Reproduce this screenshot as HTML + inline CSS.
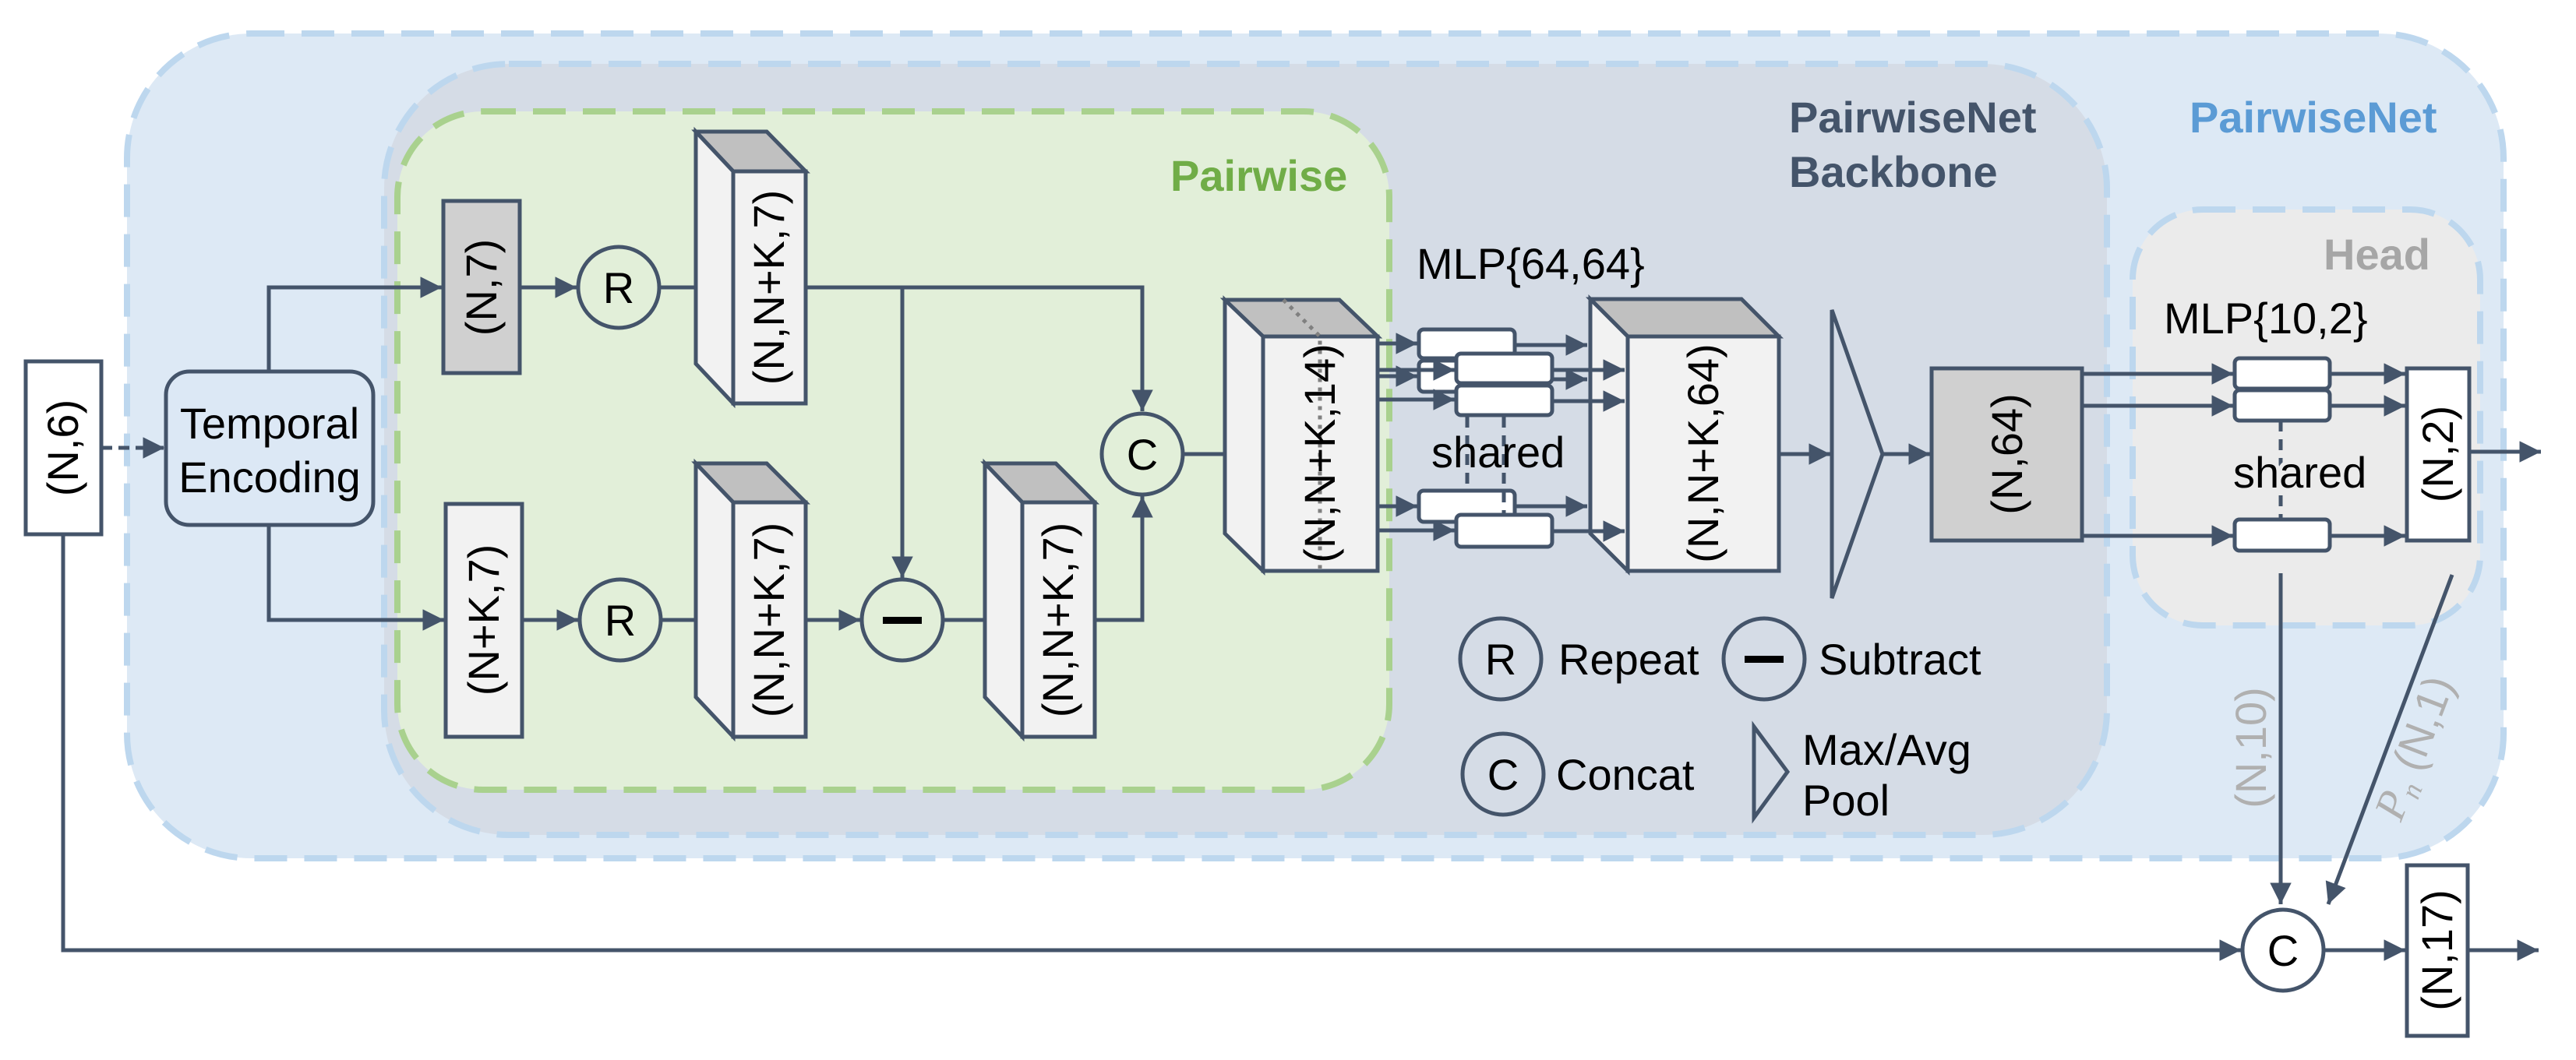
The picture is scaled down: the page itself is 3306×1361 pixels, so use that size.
<!DOCTYPE html>
<html><head><meta charset="utf-8"><style>
html,body{margin:0;padding:0;background:#fff}
svg{display:block}
text{font-family:"Liberation Sans",Arial,sans-serif;font-size:56px;fill:#000}
</style></head><body>
<svg width="3306" height="1361" viewBox="0 0 3306 1361" xmlns="http://www.w3.org/2000/svg">
<defs>
<marker id="a" viewBox="0 0 10 10" refX="10" refY="5" markerWidth="6" markerHeight="5.5" orient="auto" markerUnits="strokeWidth"><path d="M0,0 L10,5 L0,10 z" fill="#44546a"/></marker>
</defs>
<!-- containers -->
<rect x="163" y="43" width="3050" height="1059" rx="160" fill="#dde9f5" stroke="#bdd7ee" stroke-width="8" stroke-dasharray="42 22"/>
<rect x="493" y="82" width="2211" height="990" rx="160" fill="#d5dce6" stroke="#bdd7ee" stroke-width="8" stroke-dasharray="42 22"/>
<rect x="510" y="143" width="1273" height="871" rx="110" fill="#e2efd9" stroke="#a9d18e" stroke-width="8" stroke-dasharray="42 22"/>
<rect x="2737" y="269" width="446" height="534" rx="90" fill="#ebebeb" stroke="#bdd7ee" stroke-width="8" stroke-dasharray="42 22"/>
<text x="2810" y="170" font-weight="bold" style="fill:#5b9bd5">PairwiseNet</text>
<text x="2296" y="170" font-weight="bold" style="fill:#44546a">PairwiseNet</text>
<text x="2296" y="240" font-weight="bold" style="fill:#44546a">Backbone</text>
<text x="1502" y="245" font-weight="bold" style="fill:#70ad47">Pairwise</text>
<text x="2982" y="346" font-weight="bold" style="fill:#a6a6a6">Head</text>

<g stroke="#44546a" stroke-width="5" fill="none">
<rect x="33" y="464" width="97" height="222" fill="#fff"/>
<line x1="130" y1="575" x2="211" y2="575" stroke-dasharray="14 8" marker-end="url(#a)"/>
<rect x="213" y="477" width="266" height="197" rx="30" fill="#dce8f5"/>
<path d="M345,477 V369 H567" marker-end="url(#a)"/>
<path d="M345,674 V796 H570" marker-end="url(#a)"/>
<path d="M81,686 V1220 H2876" marker-end="url(#a)"/>
<rect x="569" y="258" width="98" height="221" fill="#d0d0d0"/>
<rect x="572" y="647" width="98" height="299" fill="#f2f2f2"/>
<line x1="667" y1="369" x2="740" y2="369" marker-end="url(#a)"/>
<line x1="670" y1="796" x2="742" y2="796" marker-end="url(#a)"/>
<circle cx="794" cy="369" r="52" fill="#e2efd9"/>
<circle cx="796" cy="796" r="52" fill="#e2efd9"/>
<line x1="846" y1="369" x2="939" y2="369" marker-end="url(#a)"/>
<line x1="848" y1="796" x2="939" y2="796" marker-end="url(#a)"/>
<polygon points="893,169 984,169 1034,220 941,220" fill="#c0c0c0"/>
<polygon points="893,169 941,220 941,518 893,467" fill="#f2f2f2"/>
<rect x="941" y="220" width="93" height="298" fill="#f2f2f2"/>
<polygon points="893,595 984,595 1034,645 941,645" fill="#c0c0c0"/>
<polygon points="893,595 941,645 941,946 893,895" fill="#f2f2f2"/>
<rect x="941" y="645" width="93" height="301" fill="#f2f2f2"/>
<path d="M1034,369 H1466 V528" marker-end="url(#a)"/>
<line x1="1158" y1="369" x2="1158" y2="742" marker-end="url(#a)"/>
<line x1="1034" y1="796" x2="1104" y2="796" marker-end="url(#a)"/>
<circle cx="1158" cy="796" r="52" fill="#e2efd9"/>
<line x1="1210" y1="796" x2="1310" y2="796" marker-end="url(#a)"/>
<polygon points="1264,595 1355,595 1405,645 1312,645" fill="#c0c0c0"/>
<polygon points="1264,595 1312,645 1312,946 1264,895" fill="#f2f2f2"/>
<rect x="1312" y="645" width="93" height="301" fill="#f2f2f2"/>
<path d="M1405,796 H1466 V637" marker-end="url(#a)"/>
<circle cx="1466" cy="583" r="52" fill="#e2efd9"/>
<line x1="1518" y1="583" x2="1572" y2="583"/>
<polygon points="1572,385 1719,385 1768,432 1621,432" fill="#c0c0c0"/>
<polygon points="1572,385 1621,432 1621,733 1572,685" fill="#f2f2f2"/>
<rect x="1621" y="432" width="147" height="301" fill="#f2f2f2"/>
</g>
<path d="M1647,385 L1694,432 V730" stroke="#808080" stroke-width="5" stroke-dasharray="5 7" fill="none"/>
<rect x="1133" y="792" width="50" height="9" fill="#000"/>

<g stroke="#44546a" stroke-width="5" fill="none">
<polygon points="2041,384 2235,384 2283,432 2089,432" fill="#c0c0c0"/>
<polygon points="2041,384 2089,432 2089,733 2041,685" fill="#f2f2f2"/>
<rect x="2089" y="432" width="194" height="301" fill="#f2f2f2"/>
<line x1="1768" y1="441" x2="1819" y2="441" marker-end="url(#a)"/>
<line x1="1768" y1="483" x2="1819" y2="483" marker-end="url(#a)"/>
<line x1="1768" y1="650" x2="1819" y2="650" marker-end="url(#a)"/>
<rect x="1821" y="423" width="123" height="37" rx="6" fill="#fff"/>
<rect x="1821" y="463" width="123" height="40" rx="6" fill="#fff"/>
<rect x="1821" y="630" width="123" height="40" rx="6" fill="#fff"/>
<line x1="1944" y1="443" x2="2037" y2="443" marker-end="url(#a)"/>
<line x1="1944" y1="487" x2="2037" y2="487" marker-end="url(#a)"/>
<line x1="1944" y1="650" x2="2037" y2="650" marker-end="url(#a)"/>
<line x1="1768" y1="475" x2="1867" y2="475" marker-end="url(#a)"/>
<line x1="1768" y1="513" x2="1867" y2="513" marker-end="url(#a)"/>
<line x1="1768" y1="681" x2="1867" y2="681" marker-end="url(#a)"/>
<rect x="1869" y="454" width="123" height="38" rx="6" fill="#fff"/>
<rect x="1869" y="495" width="123" height="38" rx="6" fill="#fff"/>
<rect x="1869" y="661" width="123" height="41" rx="6" fill="#fff"/>
<line x1="1992" y1="475" x2="2085" y2="475" marker-end="url(#a)"/>
<line x1="1992" y1="515" x2="2085" y2="515" marker-end="url(#a)"/>
<line x1="1992" y1="682" x2="2085" y2="682" marker-end="url(#a)"/>
<line x1="1883" y1="535" x2="1883" y2="630" stroke-dasharray="14 10"/>
<line x1="1930" y1="535" x2="1930" y2="661" stroke-dasharray="14 10"/>
<line x1="2283" y1="583" x2="2349" y2="583" marker-end="url(#a)"/>
<polygon points="2351,398 2416,583 2351,768"/>
<line x1="2416" y1="583" x2="2477" y2="583" marker-end="url(#a)"/>
<rect x="2479" y="473" width="193" height="221" fill="#d0d0d0"/>
<line x1="2672" y1="480" x2="2866" y2="480" marker-end="url(#a)"/>
<line x1="2672" y1="521" x2="2866" y2="521" marker-end="url(#a)"/>
<line x1="2672" y1="688" x2="2866" y2="688" marker-end="url(#a)"/>
<rect x="2868" y="460" width="122" height="39" rx="6" fill="#fff"/>
<rect x="2868" y="501" width="122" height="39" rx="6" fill="#fff"/>
<rect x="2868" y="667" width="122" height="40" rx="6" fill="#fff"/>
<line x1="2990" y1="480" x2="3087" y2="480" marker-end="url(#a)"/>
<line x1="2990" y1="521" x2="3087" y2="521" marker-end="url(#a)"/>
<line x1="2990" y1="688" x2="3087" y2="688" marker-end="url(#a)"/>
<line x1="2927" y1="540" x2="2927" y2="667" stroke-dasharray="14 10"/>
<rect x="3089" y="473" width="80" height="221" fill="#fff"/>
<line x1="3169" y1="580" x2="3261" y2="580" marker-end="url(#a)"/>
<line x1="2927" y1="736" x2="2927" y2="1161" marker-end="url(#a)"/>
<line x1="3147" y1="738" x2="2988" y2="1161" marker-end="url(#a)"/>
<circle cx="2930" cy="1220" r="52" fill="#fff"/>
<line x1="2982" y1="1220" x2="3087" y2="1220" marker-end="url(#a)"/>
<rect x="3089" y="1111" width="78" height="219" fill="#fff"/>
<line x1="3167" y1="1220" x2="3258" y2="1220" marker-end="url(#a)"/>
<circle cx="1926" cy="846" r="52"/>
<circle cx="2264" cy="846" r="52"/>
<circle cx="1929" cy="994" r="52"/>
<polygon points="2251,933 2294,991 2251,1050"/>
</g>
<rect x="2239" y="842" width="50" height="9" fill="#000"/>

<g text-anchor="middle">
<text transform="translate(81,575) rotate(-90)" dy="19">(N,6)</text>
<text x="346" y="563">Temporal</text>
<text x="346" y="632">Encoding</text>
<text transform="translate(618,369) rotate(-90)" dy="19">(N,7)</text>
<text transform="translate(621,796) rotate(-90)" dy="19">(N+K,7)</text>
<text x="794" y="389">R</text>
<text x="796" y="816">R</text>
<text transform="translate(987,369) rotate(-90)" dy="19">(N,N+K,7)</text>
<text transform="translate(987,796) rotate(-90)" dy="19">(N,N+K,7)</text>
<text transform="translate(1358,796) rotate(-90)" dy="19">(N,N+K,7)</text>
<text x="1466" y="603">C</text>
<text transform="translate(1694,582) rotate(-90)" dy="19">(N,N+K,14)</text>
<text transform="translate(2186,582) rotate(-90)" dy="19">(N,N+K,64)</text>
<text transform="translate(2576,583) rotate(-90)" dy="19">(N,64)</text>
<text transform="translate(3129,583) rotate(-90)" dy="19">(N,2)</text>
<text transform="translate(3128,1220) rotate(-90)" dy="19">(N,17)</text>
<text x="2930" y="1240">C</text>
<text x="1926" y="866">R</text>
<text x="1929" y="1014">C</text>
<text transform="translate(2889,960) rotate(-90)" dy="19" style="fill:#b0b0b0">(N,10)</text>
<text transform="translate(3098,960) rotate(-69)" dy="19" style="fill:#b0b0b0"><tspan font-family="Liberation Serif" font-style="italic">P<tspan font-size="36" dy="10">n</tspan></tspan><tspan dy="-10"> (N,1)</tspan></text>
</g>
<text x="1818" y="358">MLP{64,64}</text>
<text x="1837" y="600">shared</text>
<text x="2777" y="428">MLP{10,2}</text>
<text x="2866" y="626" style="paint-order:stroke;stroke:#ebebeb;stroke-width:10px">shared</text>
<text x="2000" y="866">Repeat</text>
<text x="2334" y="866">Subtract</text>
<text x="1997" y="1014">Concat</text>
<text x="2313" y="982">Max/Avg</text>
<text x="2313" y="1047">Pool</text>
</svg>
</body></html>
